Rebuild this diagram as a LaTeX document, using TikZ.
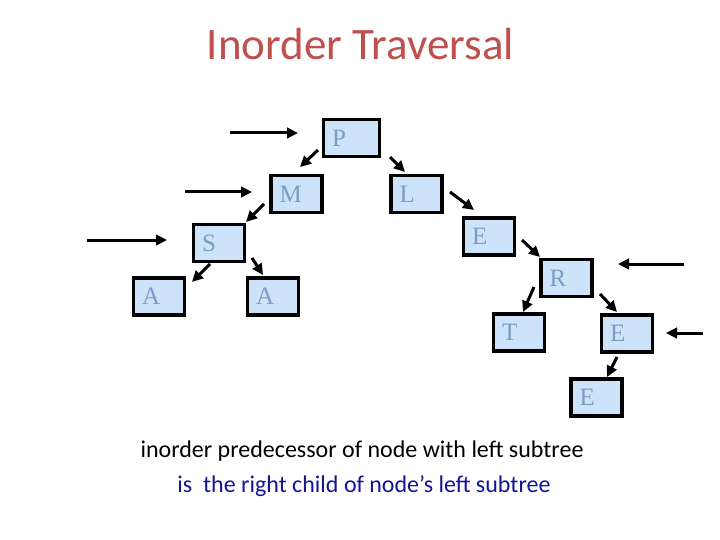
\documentclass[tikz,border=0pt]{standalone}
\usepackage{fontspec}
\setmainfont{Liberation Serif}
\newfontfamily\calib{Carlito}
\usetikzlibrary{arrows.meta,calc}
\definecolor{boxfill}{RGB}{204,227,250}
\definecolor{lettercol}{RGB}{122,156,198}
\definecolor{titlecol}{RGB}{192,80,77}
\definecolor{navy}{RGB}{20,20,150}
\tikzset{
  tbox/.style={draw=black, line width=3.8pt, fill=boxfill, text=lettercol,
    font=\fontsize{25}{27}\selectfont, minimum height=37pt, inner xsep=8.5pt,
    inner ysep=0pt, text width=34pt, align=left},
  arr/.style={line width=3pt, -{Triangle[length=11pt,width=10.5pt]}},
}
\begin{document}
\begin{tikzpicture}[x=1pt,y=-1pt]
\useasboundingbox (0,0) rectangle (720,540);
\node[text=titlecol, font=\calib\fontsize{45}{50}\selectfont, anchor=base] (title) at (360.5,60) {Inorder Traversal};

\node[tbox, text width=39pt] (P) at (351.5,138) {P};
\node[tbox] (M) at (296.5,194) {M};
\node[tbox] (L) at (416.5,194) {L};
\node[tbox] (S) at (219,243) {S};
\node[tbox] (E1) at (489,236.5) {E};
\node[tbox] (A1) at (159,296.5) {A};
\node[tbox] (A2) at (273,296.5) {A};
\node[tbox] (R) at (566.5,278) {R};
\node[tbox] (T) at (519,332.5) {T};
\node[tbox] (E2) at (627,333.5) {E};
\node[tbox] (E3) at (596.5,397.5) {E};

% tree edges
\draw[arr] ([shift={(-33.5,12)}]P.center) -- ([shift={(3.5,-27)}]M.center);
\draw[arr] ([shift={(38.5,19)}]P.center) -- ([shift={(-11.5,-22)}]L.center);
\draw[arr] ([shift={(-32.5,10)}]M.center) -- ([shift={(27,-21)}]S.center);
\draw[arr] ([shift={(-9,21)}]S.center) -- ([shift={(33,-14.5)}]A1.center);
\draw[arr] ([shift={(33,15)}]S.center) -- ([shift={(-10,-21.5)}]A2.center);
\draw[arr] ([shift={(33.5,-2)}]L.center) -- ([shift={(-15,-26.5)}]E1.center);
\draw[arr] ([shift={(33,3.5)}]E1.center) -- ([shift={(-26.5,-21)}]R.center);
\draw[arr] ([shift={(-32.5,9)}]R.center) -- ([shift={(4,-20.5)}]T.center);
\draw[arr] ([shift={(33.5,16)}]R.center) -- ([shift={(-10,-21.5)}]E2.center);
\draw[arr] ([shift={(-10,23.5)}]E2.center) -- ([shift={(10.5,-20.5)}]E3.center);

% pointer arrows
\coordinate (sP) at (230,133);
\coordinate (sM) at (185,192);
\coordinate (sS) at (87,240);
\coordinate (sR) at (684,264);
\coordinate (sE) at (703,333);
\draw[arr] (sP) -- ([shift={(-53.5,-5)}]P.center);
\draw[arr] (sM) -- ([shift={(-44.5,-2)}]M.center);
\draw[arr] (sS) -- ([shift={(-52,-3)}]S.center);
\draw[arr] (sR) -- ([shift={(51.5,-14)}]R.center);
\draw[arr] (sE) -- ([shift={(39,-0.5)}]E2.center);

\node[font=\calib\fontsize{24}{28}\selectfont, anchor=base] (t1) at (362,457) {inorder predecessor of node with left subtree};
\node[font=\calib\fontsize{24}{28}\selectfont, text=navy, anchor=base] (t2) at (364,492) {is\ \ the right child of node’s left subtree};
\end{tikzpicture}
\end{document}
